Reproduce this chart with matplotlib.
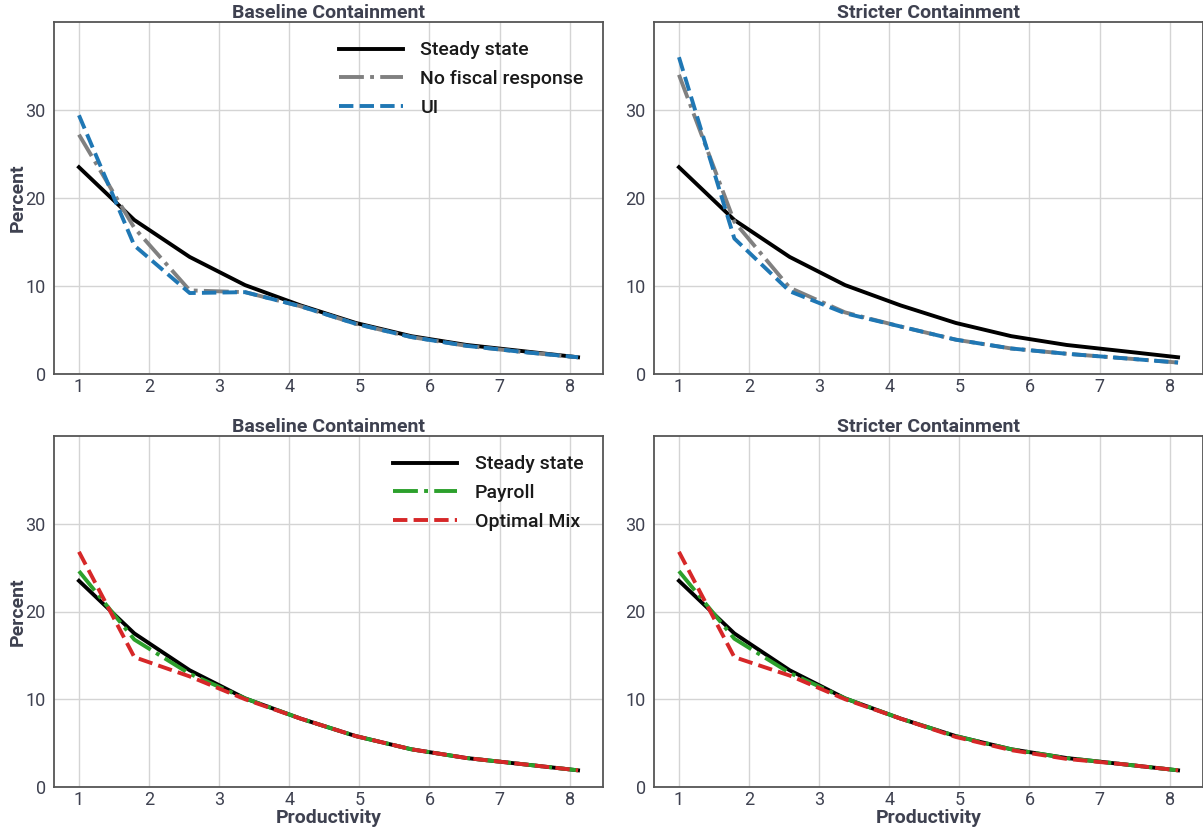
import matplotlib
matplotlib.use('Agg')
import matplotlib.pyplot as plt

# productivity grid
productivity = [1.0, 1.79, 2.58, 3.37, 4.16, 4.95, 5.74, 6.53, 7.33, 8.12]

steady_state = [23.5, 17.5, 13.3, 10.1, 7.8, 5.8, 4.3, 3.3, 2.6, 1.9]

# top row
no_fiscal_base = [27.2, 16.6, 9.5, 9.3, 7.7, 5.7, 4.2, 3.2, 2.5, 1.9]
ui_base = [29.4, 14.6, 9.2, 9.3, 7.7, 5.7, 4.2, 3.2, 2.5, 1.9]
no_fiscal_strict = [34.0, 17.3, 9.8, 7.0, 5.4, 3.9, 2.9, 2.3, 1.8, 1.3]
ui_strict = [36.0, 15.4, 9.4, 6.9, 5.4, 3.9, 2.9, 2.3, 1.8, 1.3]

# bottom row
payroll_base = [24.6, 16.8, 12.9, 10.1, 7.8, 5.8, 4.3, 3.3, 2.6, 1.9]
optimal_base = [26.8, 14.8, 12.6, 10.0, 7.8, 5.8, 4.3, 3.3, 2.6, 1.9]
payroll_strict = [24.6, 16.9, 13.0, 10.1, 7.8, 5.8, 4.3, 3.3, 2.6, 1.9]
optimal_strict = [26.8, 14.8, 12.7, 10.0, 7.8, 5.7, 4.2, 3.2, 2.6, 1.9]

titles = ['Baseline Containment', 'Stricter Containment']

TEXT = '#3e4150'
plt.rcParams['font.family'] = ['Roboto', 'DejaVu Sans']
plt.rcParams['text.color'] = TEXT
plt.rcParams['axes.labelcolor'] = TEXT
plt.rcParams['xtick.color'] = TEXT
plt.rcParams['ytick.color'] = TEXT

fig = plt.figure(figsize=(12.03, 8.30), dpi=100)
W, H = 1203, 830
boxes = [(54, 22, 603, 374), (654, 22, 1203, 374),
         (54, 436, 603, 787), (654, 436, 1203, 787)]
axes = []
for (l, t, r, b) in boxes:
    axes.append(fig.add_axes([l / W, 1 - b / H, (r - l) / W, (b - t) / H]))

lw = 2.8
top_series = [(no_fiscal_base, ui_base), (no_fiscal_strict, ui_strict)]
bot_series = [(payroll_base, optimal_base), (payroll_strict, optimal_strict)]

for i, ax in enumerate(axes):
    ax.plot(productivity, steady_state, color='black', lw=lw, label='Steady state')
    if i < 2:
        a, b = top_series[i]
        ax.plot(productivity, a, color='grey', lw=lw, ls='-.', label='No fiscal response')
        ax.plot(productivity, b, color='#1f77b4', lw=lw, ls='--', label='UI')
    else:
        a, b = bot_series[i - 2]
        ax.plot(productivity, a, color='#2ca02c', lw=lw, ls='-.', label='Payroll')
        ax.plot(productivity, b, color='#d62728', lw=lw, ls='--', label='Optimal Mix')

    ax.set_ylim(0, 40)
    ax.set_yticks([0, 10, 20, 30])
    ax.set_xticks(range(1, 9))
    ax.grid(True, color='#d4d4d4', lw=1)
    ax.set_axisbelow(True)
    ax.tick_params(axis='y', length=0, labelsize=13, pad=6)
    ax.tick_params(axis='x', length=0, labelsize=13, pad=3)
    for s in ax.spines.values():
        s.set_color('#555555')
        s.set_linewidth(1.3)
    ax.set_title(titles[i % 2], fontsize=14, fontweight='bold', pad=3)
    if i % 2 == 0:
        ax.set_ylabel('Percent', fontsize=14, fontweight='bold')
        ax.yaxis.set_label_coords(-0.05, 0.5)
        leg = ax.legend(loc='upper right', frameon=False, fontsize=14,
                        handlelength=3.3, handletextpad=0.9, labelspacing=0.55,
                        borderaxespad=0.6)
        for t in leg.get_texts():
            t.set_color('#1a1a1a')
            t.set_fontweight('medium')
    if i >= 2:
        ax.set_xlabel('Productivity', fontsize=14, fontweight='bold', labelpad=0)

fig.savefig('out.png', dpi=100)
